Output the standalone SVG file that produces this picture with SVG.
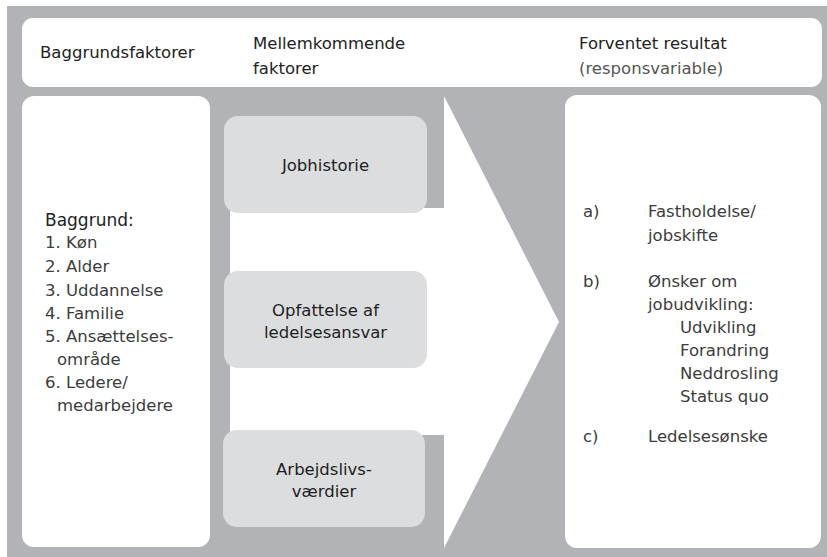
<svg xmlns="http://www.w3.org/2000/svg" width="827" height="557" viewBox="0 0 827 557">
<style>
  text { font-family: "DejaVu Sans", "Liberation Sans", sans-serif; font-size: 16.5px; fill: #222; }
  .lt { fill: #3c3c3c; }
  .sub { fill: #555; }
  .mid { text-anchor: middle; fill: #1e1e1e; }
  .panel { fill: #ffffff; }
  .factor { fill: #dcdddf; }
</style>
<rect x="0" y="0" width="827" height="557" fill="#ffffff"/>
<rect id="background" x="7" y="6" width="820" height="551" fill="#b2b3b6"/>

<g id="header">
  <rect class="panel" x="22" y="18" width="800" height="69" rx="11"/>
  <text x="40" y="58">Baggrundsfaktorer</text>
  <text x="253" y="49">Mellemkommende</text>
  <text x="253" y="74">faktorer</text>
  <text x="579" y="49">Forventet resultat</text>
  <text class="sub" x="579" y="74">(responsvariable)</text>
</g>

<g id="connectors">
  <polygon id="arrow" fill="#ffffff" points="230,208 444,208 444,96 559,322 444,548 444,435 230,435"/>
</g>

<g id="baggrund">
  <rect class="panel" x="22" y="96" width="188" height="451" rx="12"/>
  <text x="45" y="226" style="font-size:17px">Baggrund:</text>
  <text class="lt" x="45" y="248">1. Køn</text>
  <text class="lt" x="45" y="272">2. Alder</text>
  <text class="lt" x="45" y="296">3. Uddannelse</text>
  <text class="lt" x="45" y="319">4. Familie</text>
  <text class="lt" x="45" y="342">5. Ansættelses-</text>
  <text class="lt" x="57" y="365">område</text>
  <text class="lt" x="45" y="388">6. Ledere/</text>
  <text class="lt" x="57" y="411">medarbejdere</text>
</g>

<g id="jobhistorie">
  <rect class="factor" x="224" y="116" width="203" height="97" rx="14"/>
  <text class="mid" x="325.5" y="171">Jobhistorie</text>
</g>

<g id="opfattelse">
  <rect class="factor" x="224" y="271" width="203" height="97" rx="14"/>
  <text class="mid" x="325.5" y="316">Opfattelse af</text>
  <text class="mid" x="325.5" y="338">ledelsesansvar</text>
</g>

<g id="arbejdslivs">
  <rect class="factor" x="223" y="430" width="202" height="97" rx="14"/>
  <text class="mid" x="324" y="475">Arbejdslivs-</text>
  <text class="mid" x="324" y="497">værdier</text>
</g>

<g id="resultat">
  <rect class="panel" x="565" y="95" width="256" height="453" rx="12"/>
  <text class="lt" x="583" y="217">a)</text>
  <text class="lt" x="648" y="217">Fastholdelse/</text>
  <text class="lt" x="648" y="241">jobskifte</text>
  <text class="lt" x="583" y="287">b)</text>
  <text class="lt" x="648" y="287">Ønsker om</text>
  <text class="lt" x="648" y="310">jobudvikling:</text>
  <text class="lt" x="680" y="333">Udvikling</text>
  <text class="lt" x="680" y="356">Forandring</text>
  <text class="lt" x="680" y="379">Neddrosling</text>
  <text class="lt" x="680" y="402">Status quo</text>
  <text class="lt" x="583" y="442">c)</text>
  <text class="lt" x="648" y="442">Ledelsesønske</text>
</g>
</svg>
